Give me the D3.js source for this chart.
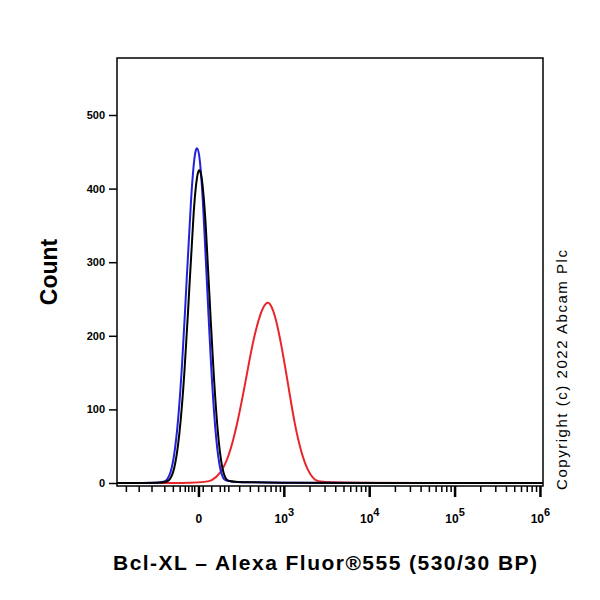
<!DOCTYPE html><html><head><script src="https://cdn.jsdelivr.net/npm/d3@7"></script>
<style>body{margin:0;background:#fff}text{font-family:Arial,"Liberation Sans",sans-serif}</style></head><body><svg id="c" width="600" height="600"></svg>
<script>
const yTicks=[0,100,200,300,400,500];
const xTickPos=[0,1,2,3,4];
const xTickLabels=["0","3","4","5","6"];
const blue=[[-0.96,0],[-0.45,0],[-0.38,2],[-0.32,15],[-0.26,60],[-0.2,150],[-0.14,285],[-0.09,395],[-0.05,450],[-0.02,458],[0.01,445],[0.05,380],[0.09,280],[0.14,160],[0.19,70],[0.24,20],[0.29,3],[0.35,0],[4.03,0]];
const black=[[-0.96,0],[-0.42,0],[-0.35,2],[-0.29,15],[-0.23,60],[-0.17,145],[-0.11,270],[-0.06,378],[-0.02,422],[0.01,428],[0.04,412],[0.08,355],[0.12,260],[0.17,150],[0.22,65],[0.27,18],[0.32,3],[0.38,0],[4.03,0]];
const red=[[-0.96,0],[0.05,0],[0.15,3],[0.25,12],[0.35,35],[0.45,80],[0.55,140],[0.63,192],[0.72,232],[0.79,247],[0.84,244],[0.9,225],[0.97,185],[1.05,130],[1.12,80],[1.2,40],[1.28,15],[1.36,3],[1.45,0],[4.03,0]];
const svg=d3.select("#c");
const x=d3.scaleLinear().domain([-0.96,4.03]).range([117,543]);
const y=d3.scaleLinear().domain([0,500]).range([483,115]);
svg.append("rect").attr("x",117).attr("y",58).attr("width",426).attr("height",428).attr("fill","none").attr("stroke","#000").attr("stroke-width",1.5);
const line=d3.line().x(d=>x(d[0])).y(d=>y(d[1])).curve(d3.curveBasis);
[[red,"#e8262a"],[blue,"#2222dd"],[black,"#000"]].forEach(([d,c])=>svg.append("path").attr("d",line(d)).attr("fill","none").attr("stroke",c).attr("stroke-width",2));
const ya=svg.append("g").attr("transform","translate(117,0)").call(d3.axisLeft(y).tickValues(yTicks).tickSize(8).tickPadding(4));
ya.select(".domain").remove();
ya.selectAll("text").style("font-size","11px").style("font-weight","bold");
ya.selectAll("line").attr("stroke-width",1.5);
const minor=[];
[-0.85,-0.7,-0.55,-0.4,-0.3,-0.22,-0.16,-0.12,-0.08,-0.05,0.05,0.15,0.25,0.35].forEach(v=>minor.push(v));
for(let k=0;k<4;k++){for(let m=2;m<10;m++)minor.push(k+Math.log10(m));}
const g=svg.append("g");
minor.forEach(v=>g.append("line").attr("x1",x(v)).attr("x2",x(v)).attr("y1",486).attr("y2",492).attr("stroke","#000").attr("stroke-width",1.5));
xTickPos.forEach(v=>g.append("line").attr("x1",x(v)).attr("x2",x(v)).attr("y1",486).attr("y2",497).attr("stroke","#000").attr("stroke-width",2.5));
xTickPos.forEach((v,i)=>{
 const t=svg.append("text").attr("x",x(v)).attr("y",523).attr("text-anchor","middle").style("font-size","12px").style("font-weight","bold");
 if(i===0)t.text("0");else{t.append("tspan").text("10");t.append("tspan").attr("dy",-7).style("font-size","11px").text(xTickLabels[i]);}
});
svg.append("text").attr("transform","translate(57,272) rotate(-90)").attr("text-anchor","middle").style("font-size","23px").style("font-weight","bold").text("Count");
svg.append("text").attr("x",325).attr("y",570).attr("text-anchor","middle").attr("textLength",424).style("font-size","21px").style("font-weight","bold").text("Bcl-XL – Alexa Fluor®555 (530/30 BP)");
svg.append("text").attr("transform","translate(567,370) rotate(-90)").attr("text-anchor","middle").attr("textLength",240).style("font-size","15px").text("Copyright (c) 2022 Abcam Plc");
</script></body></html>
